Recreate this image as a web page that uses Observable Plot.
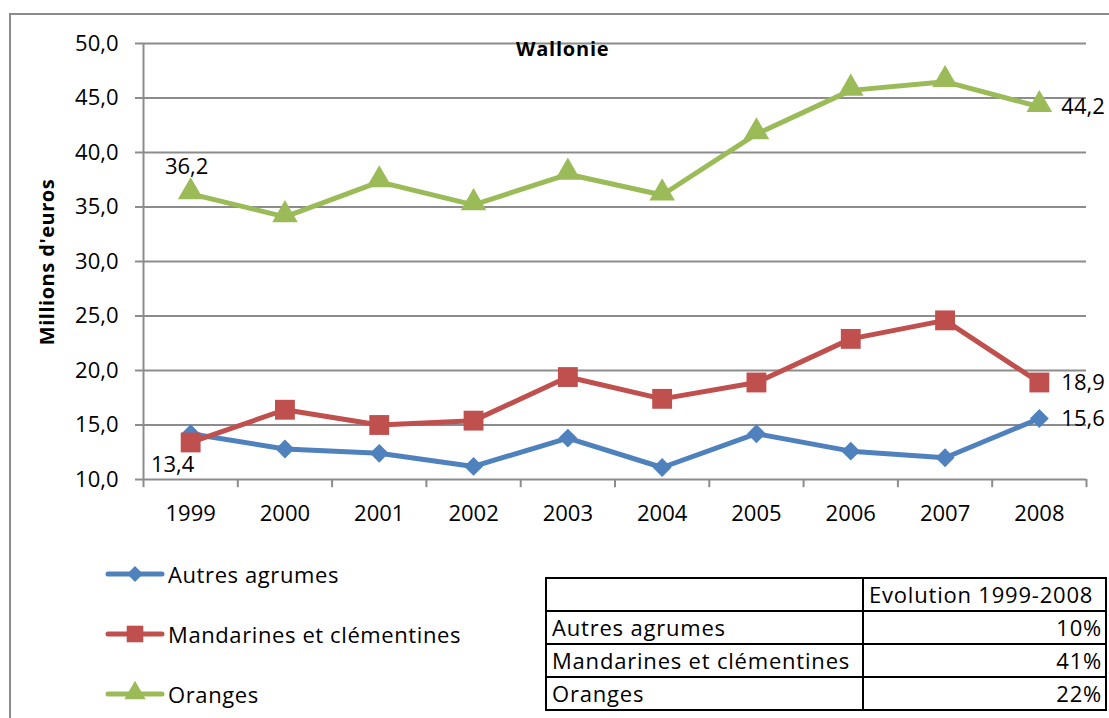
<!DOCTYPE html>
<html>
<head>
<meta charset="utf-8">
<script src="https://cdn.jsdelivr.net/npm/d3@7"></script>
<script src="https://cdn.jsdelivr.net/npm/@observablehq/plot@0.6"></script>
<style>
  html, body { margin: 0; padding: 0; background: #fff; }
  body { width: 1109px; height: 718px; position: relative; overflow: hidden; font-family: "Open Sans", sans-serif; }
  #frame { position: absolute; left: 9px; top: 13px; width: 1200px; height: 800px; border-left: 2px solid #8c8c8c; border-top: 2px solid #8c8c8c; }
  #chart { position: absolute; left: 0; top: 0; }
  #title { position: absolute; left: 516px; top: 35px; font-weight: bold; font-size: 20px; letter-spacing: 0.8px; color: #000; }
  #ylabel { position: absolute; left: 46px; top: 262px; transform: translate(-50%, -50%) rotate(-90deg); font-weight: bold; font-size: 20px; letter-spacing: 0.5px; white-space: nowrap; }
  .leg { position: absolute; left: 105px; height: 30px; display: flex; align-items: center; font-size: 22px; letter-spacing: 0.6px; color: #000; }
  .leg svg { margin-right: 3px; }
  table { position: absolute; left: 545px; top: 577px; border-collapse: collapse; font-size: 22px; letter-spacing: 0.8px; font-family: "Open Sans", sans-serif; }
  td { border: 2px solid #000; height: 31px; padding: 0 3px 0 5px; line-height: 31px; white-space: nowrap; }
  td.l { width: 307px; }
  td.r { width: 233px; text-align: right; }
</style>
</head>
<body>
<div id="frame"></div>
<div id="chart"></div>
<div id="title"></div>
<div id="ylabel"></div>
<div id="legend"></div>
<div id="tablewrap"></div>
<script>
const titleText = "Wallonie";
const yLabel = "Millions d'euros";
const years = [1999, 2000, 2001, 2002, 2003, 2004, 2005, 2006, 2007, 2008];
const seriesNames = ["Autres agrumes", "Mandarines et clémentines", "Oranges"];
const autres = [14.2, 12.8, 12.4, 11.2, 13.8, 11.1, 14.2, 12.6, 12.0, 15.6];
const mandarines = [13.4, 16.4, 15.0, 15.4, 19.4, 17.4, 18.9, 22.9, 24.6, 18.9];
const oranges = [36.2, 34.1, 37.3, 35.2, 38.0, 36.1, 41.7, 45.7, 46.5, 44.2];
const yTicks = [10, 15, 20, 25, 30, 35, 40, 45, 50];
const evolution = ["10%", "41%", "22%"];
const tableHeader = "Evolution 1999-2008";

const colors = ["#4F81BD", "#C0504D", "#9BBB59"];
const symbols = ["diamond2", "square", "triangle"];
const radii = [8.5, 11.2, 9.5];

const allSeries = [autres, mandarines, oranges];
const rows = [];
allSeries.forEach((vals, si) => vals.forEach((v, i) => rows.push({series: seriesNames[si], year: years[i], value: v})));

const fmt = v => v.toFixed(1).replace(".", ",");

// data labels (first & last points)
const labelDefs = [
  {series: 2, idx: 0, dx: -4, dy: -27, anchor: "middle"},
  {series: 1, idx: 0, dx: -18, dy: 23, anchor: "middle"},
  {series: 2, idx: 9, dx: 22, dy: 0, anchor: "start"},
  {series: 1, idx: 9, dx: 22, dy: 0, anchor: "start"},
  {series: 0, idx: 9, dx: 22, dy: 0, anchor: "start"}
];
const labels = labelDefs.map(d => ({year: years[d.idx], value: allSeries[d.series][d.idx], text: fmt(allSeries[d.series][d.idx]), dx: d.dx, dy: d.dy, anchor: d.anchor}));

const boundaries = d3.range(years[0] - 0.5, years[years.length - 1] + 1, 1);

const marks = [
  Plot.gridY(yTicks, {stroke: "#8c8c8c", strokeOpacity: 1, strokeWidth: 2}),
  Plot.ruleX([years[0] - 0.5], {stroke: "#8c8c8c", strokeWidth: 2}),
  Plot.ruleX(boundaries, {y1: 10, y2: 9.25, stroke: "#8c8c8c", strokeWidth: 2}),
  Plot.axisY(yTicks, {tickSize: 8, tickPadding: 17, tickFormat: fmt, stroke: "#8c8c8c", strokeWidth: 2, fontSize: 22, fill: "#000", label: null, style: {letterSpacing: "1px"}}),
  Plot.axisX(years, {tickSize: 0, tickPadding: 26, tickFormat: d => String(d), fontSize: 22, fill: "#000", label: null, style: {letterSpacing: "1px"}})
];
seriesNames.forEach((name, si) => {
  const data = rows.filter(r => r.series === name);
  marks.push(Plot.line(data, {x: "year", y: "value", stroke: colors[si], strokeWidth: 5, strokeLinejoin: "round"}));
});
seriesNames.forEach((name, si) => {
  const data = rows.filter(r => r.series === name);
  marks.push(Plot.dot(data, {x: "year", y: "value", symbol: () => symbols[si], r: radii[si], fill: colors[si], stroke: "none", dy: si === 2 ? -2 : 0}));
});
["middle", "start"].forEach(a => {
  labels.filter(l => l.anchor === a).forEach(l => {
    marks.push(Plot.text([l], {x: "year", y: "value", text: "text", dx: l.dx, dy: l.dy, textAnchor: a, fontSize: 22, fill: "#000", style: {letterSpacing: "1px"}}));
  });
});

const plot = Plot.plot({
  width: 1109,
  height: 718,
  marginLeft: 143,
  marginRight: 23,
  marginTop: 43,
  marginBottom: 239,
  style: {fontFamily: "'Open Sans', sans-serif", background: "transparent", overflow: "visible"},
  x: {domain: [years[0] - 0.5, years[years.length - 1] + 0.5], axis: null},
  y: {domain: [10, 50], axis: null},
  symbol: {type: "identity"},
  marks
});
document.getElementById("chart").appendChild(plot);

document.getElementById("title").textContent = titleText;
document.getElementById("ylabel").textContent = yLabel;

// legend
const legendTops = [559, 619, 679];
const legend = document.getElementById("legend");
seriesNames.forEach((name, si) => {
  const div = document.createElement("div");
  div.className = "leg";
  div.style.top = legendTops[si] + "px";
  const svg = d3.create("svg").attr("width", 60).attr("height", 30);
  svg.append("line").attr("x1", 3).attr("x2", 57).attr("y1", 15).attr("y2", 15).attr("stroke", colors[si]).attr("stroke-width", 5).attr("stroke-linecap", "round");
  const sym = {diamond2: d3.symbolDiamond2, square: d3.symbolSquare, triangle: d3.symbolTriangle}[symbols[si]];
  svg.append("path").attr("d", d3.symbol(sym, radii[si] * radii[si] * Math.PI * 0.7)()).attr("transform", `translate(30,${si === 2 ? 14 : 15})`).attr("fill", colors[si]);
  div.appendChild(svg.node());
  const span = document.createElement("span");
  span.textContent = name;
  div.appendChild(span);
  legend.appendChild(div);
});

// table
const table = d3.select("#tablewrap").append("table");
const hr = table.append("tr");
hr.append("td").attr("class", "l").text("");
hr.append("td").attr("class", "r").style("text-align", "left").text(tableHeader);
seriesNames.forEach((name, si) => {
  const tr = table.append("tr");
  tr.append("td").attr("class", "l").text(name);
  tr.append("td").attr("class", "r").text(evolution[si]);
});
</script>
</body>
</html>
